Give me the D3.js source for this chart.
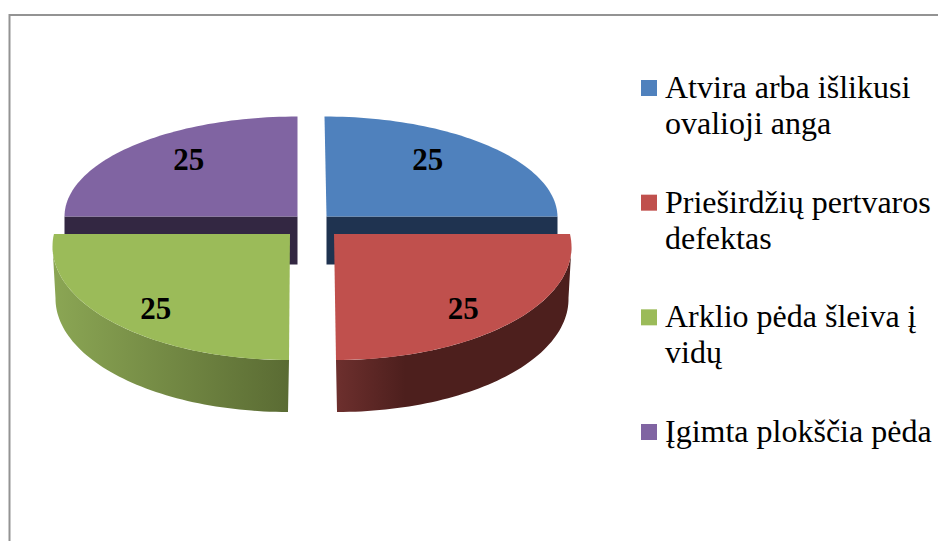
<!DOCTYPE html>
<html>
<head>
<meta charset="utf-8">
<script src="https://cdn.jsdelivr.net/npm/d3@7"></script>
<style>
  html, body { margin: 0; padding: 0; background: #fff; }
  svg { display: block; }
  text { font-family: "Liberation Serif", serif; fill: #000; }
</style>
</head>
<body>
<div id="chart"></div>
<script>
// Chart data
var categories = ["Atvira arba išlikusi ovalioji anga", "Prieširdžių pertvaros defektas", "Arklio pėda šleiva į vidų", "Įgimta plokščia pėda"];
var values = [25, 25, 25, 25];
var colors = ["#4f81bd", "#c0504d", "#9bbb59", "#8064a2"];
var sideDark = ["#1f3350", "#4d1f1d", "#5a6b33", "#332742"];
var sideLight = ["#1f3350", "#6e302e", "#8ba654", "#332742"];

var width = 938, height = 541;

var svg = d3.select("#chart").append("svg")
    .attr("width", width)
    .attr("height", height);

// Frame runs off the right and bottom of the page
svg.append("rect")
    .attr("x", 9.5).attr("y", 15)
    .attr("width", width + 50).attr("height", height + 50)
    .attr("fill", "#fff")
    .attr("stroke", "#939393")
    .attr("stroke-width", 2);

// Fake 3D: every slice gets its own apex. In front slices the ellipse centre sits
// below the apex (drop), which is what makes them look closer to the eye.
var centerX = 312, centerY = 225;
var back = { rx: 232, ry: 100, dx: 14.5, dy: -8.5, depth: 48, drop: 0 };
var front = { rx: 237.5, ry: 114, dx: 22, dy: 9, depth: 52, drop: 12 };
var skew = [2, 2, 1, 0];
var rxAdjust = [-1, 0, 0, 1];
var labelKx = [0.62, 0.77, 0.80, 0.66];
var labelKy = [0.81, 0.77, 0.77, 0.81];

var pie = d3.pie().sort(null);
var slices = pie(values).map(function (d, i) {
    var mid = (d.startAngle + d.endAngle) / 2;
    var isFront = Math.cos(mid) < 0;
    var geo = isFront ? front : back;
    var side = Math.sin(mid) > 0 ? 1 : -1;
    // Front arcs run on past the widest point, up to the apex height
    var cut = Math.asin(geo.drop / geo.ry);
    var a0 = d.startAngle, a1 = d.endAngle;
    if (isFront && side > 0) a0 -= cut;
    if (isFront && side < 0) a1 += cut;
    return {
        index: i, a0: a0, a1: a1, startAngle: d.startAngle, endAngle: d.endAngle,
        value: d.value, mid: mid, isFront: isFront, geo: geo, side: side,
        rx: geo.rx + rxAdjust[i],
        ax: centerX + side * geo.dx,
        ay: centerY + geo.dy,
        skew: side * skew[i]
    };
});

// Point on the top ellipse of a slice
function topPoint(s, a) {
    return [s.ax + s.rx * Math.sin(a) - s.skew * Math.cos(a),
            s.ay + s.geo.drop - s.geo.ry * Math.cos(a)];
}
// Point on the lower ellipse, a bit narrower because it is further from the eye
function bottomPoint(s, a) {
    return [s.ax + (s.rx - 4) * Math.sin(a) - s.skew * Math.cos(a) + s.side,
            s.ay + s.geo.drop + s.geo.depth - s.geo.ry * Math.cos(a)];
}
function sweep(a0, a1) {
    return d3.range(0, 61).map(function (k) { return a0 + (a1 - a0) * k / 60; });
}

var line = d3.line();

var defs = svg.append("defs");
slices.filter(function (s) { return s.isFront; }).forEach(function (s) {
    var x0 = s.side > 0 ? s.ax : s.ax - s.rx;
    var x1 = s.side > 0 ? s.ax + s.rx : s.ax;
    var g = defs.append("linearGradient")
        .attr("id", "wall" + s.index)
        .attr("gradientUnits", "userSpaceOnUse")
        .attr("x1", x0).attr("x2", x1).attr("y1", 0).attr("y2", 0);
    if (s.side > 0) {
        g.append("stop").attr("offset", 0).attr("stop-color", sideLight[s.index]);
        g.append("stop").attr("offset", 0.3).attr("stop-color", sideDark[s.index]);
        g.append("stop").attr("offset", 1).attr("stop-color", sideDark[s.index]);
    } else {
        g.append("stop").attr("offset", 0).attr("stop-color", sideLight[s.index]);
        g.append("stop").attr("offset", 1).attr("stop-color", sideDark[s.index]);
    }
});

// Back slices first so the front ones cover their side walls
var drawOrder = [0, 3, 1, 2];
drawOrder.forEach(function (i) {
    var s = slices[i];
    var wall;
    if (s.isFront) {
        // Rounded outer wall, from the widest point of the ellipse to the front
        var angles = sweep(s.startAngle, s.endAngle);
        var pts = angles.map(function (a) { return topPoint(s, a); })
            .concat(angles.slice().reverse().map(function (a) { return bottomPoint(s, a); }));
        wall = line(pts) + "Z";
    } else {
        // Flat cut face along the horizontal radius
        var edge = s.side > 0 ? s.endAngle : s.startAngle;
        var p = topPoint(s, edge);
        wall = line([[s.ax, s.ay], p, [p[0], p[1] + s.geo.depth], [s.ax, s.ay + s.geo.depth]]) + "Z";
    }
    svg.append("path")
        .attr("d", wall)
        .attr("fill", s.isFront ? "url(#wall" + i + ")" : sideDark[i]);

    // Top face
    var face = [[s.ax, s.ay]].concat(sweep(s.a0, s.a1).map(function (a) { return topPoint(s, a); }));
    svg.append("path")
        .attr("d", line(face) + "Z")
        .attr("fill", colors[i]);
});

// Data labels
svg.selectAll("text.value")
    .data(slices)
    .enter().append("text")
    .attr("class", "value")
    .attr("x", function (s) { return s.ax + s.rx * labelKx[s.index] * Math.sin(s.mid); })
    .attr("y", function (s) { return s.ay + s.geo.drop - s.geo.ry * labelKy[s.index] * Math.cos(s.mid); })
    .attr("text-anchor", "middle")
    .attr("dy", "0.35em")
    .style("font-size", "31px")
    .style("font-weight", "bold")
    .text(function (s) { return s.value; });

// Legend
var legendY = d3.scalePoint().domain(categories).range([88, 432]);
var legendMaxWidth = 280;
var legend = svg.selectAll("g.legend")
    .data(categories)
    .enter().append("g")
    .attr("class", "legend")
    .attr("transform", function (d) { return "translate(641," + legendY(d) + ")"; });

legend.append("rect")
    .attr("y", -8)
    .attr("width", 16).attr("height", 16)
    .attr("fill", function (d, i) { return colors[i]; });

legend.append("text")
    .attr("x", 24)
    .attr("y", 10)
    .style("font-size", "32px")
    .each(function (d) {
        // Wrap the label to the legend width
        var text = d3.select(this);
        var row = [];
        var tspan = text.append("tspan").attr("x", 24).attr("dy", 0);
        d.split(" ").forEach(function (w) {
            row.push(w);
            tspan.text(row.join(" "));
            if (tspan.node().getComputedTextLength() > legendMaxWidth && row.length > 1) {
                row.pop();
                tspan.text(row.join(" "));
                row = [w];
                tspan = text.append("tspan").attr("x", 24).attr("dy", 36).text(w);
            }
        });
    });
</script>
</body>
</html>
